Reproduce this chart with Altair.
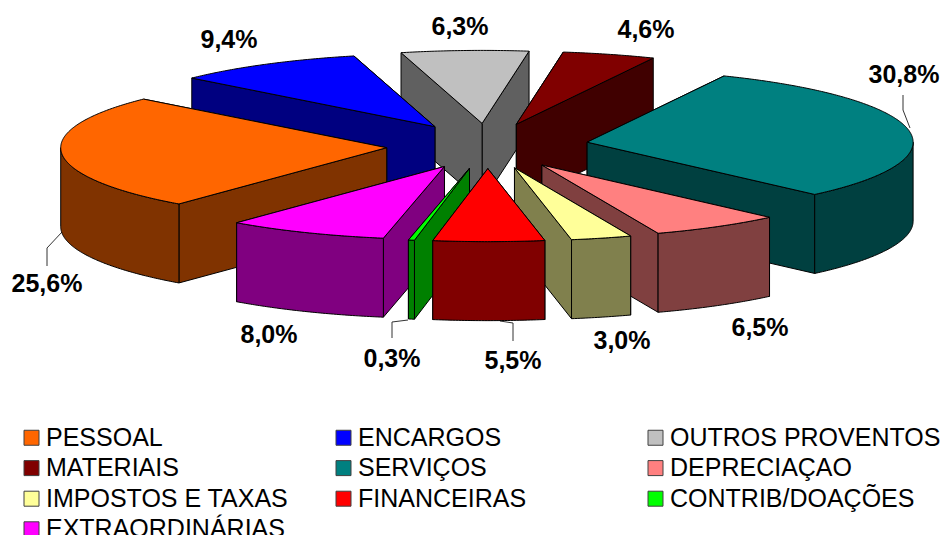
import math
import altair as alt

names = ["PESSOAL", "ENCARGOS", "OUTROS PROVENTOS", "MATERIAIS", "SERVIÇOS",
         "DEPRECIAÇAO", "IMPOSTOS E TAXAS", "FINANCEIRAS", "CONTRIB/DOAÇÕES", "EXTRAORDINÁRIAS"]
values = [25.6, 9.4, 6.3, 4.6, 30.8, 6.5, 3.0, 5.5, 0.3, 8.0]
top_colors = ["#FF6600", "#0000FF", "#C0C0C0", "#800000", "#008080",
              "#FF8080", "#FFFF99", "#FF0000", "#00FF00", "#FF00FF"]
wall_colors = ["#803300", "#000080", "#606060", "#400000", "#004040",
               "#804040", "#80804D", "#800000", "#008000", "#800080"]
label_texts = ["25,6%", "9,4%", "6,3%", "4,6%", "30,8%", "6,5%", "3,0%", "5,5%", "0,3%", "8,0%"]
label_x = [47, 229, 460, 646, 904, 760, 622, 513, 392, 269]
label_y = [284, 40, 27, 30, 75, 328, 341, 361, 359, 335]
leaders = [
    [[47, 266], [47, 248], [62, 232]],
    [[903, 95], [903, 110], [910, 128]],
    [[392, 338], [392, 322], [408, 320]],
    [[513, 341], [513, 323], [500, 321]],
]

# 3-D pie geometry
CX, CY, RX, RY, DEPTH, EXPLODE, START = 487.5, 146, 326, 73, 79, 0.31, 219.6


def pt(deg, cx, cy, f=1.0):
    a = math.radians(deg)
    return [cx + f * RX * math.sin(a), cy - f * RY * math.cos(a)]


def poly(ring, key):
    return {"type": "Feature", "properties": {"key": key},
            "geometry": {"type": "Polygon", "coordinates": [ring + [ring[0]]]}}


total = sum(values)
slices, acc = [], START
for i, v in enumerate(values):
    span = v / total * 360
    slices.append((acc, acc + span, i))
    acc += span

features = []
for a0, a1, i in sorted(slices, key=lambda s: -math.cos(math.radians((s[0] + s[1]) / 2))):
    mid = (a0 + a1) / 2
    ax, ay = pt(mid, CX, CY, EXPLODE)
    wall = names[i] + "|wall"
    steps = max(2, int((a1 - a0) * 2))
    arc = [a0 + (a1 - a0) * k / steps for k in range(steps + 1)]
    top_arc = [pt(a, ax, ay) for a in arc]
    # radial walls: far one first
    ends = sorted([a0, a1], key=lambda a: -math.cos(math.radians(a)))
    for e in ends:
        p = pt(e, ax, ay)
        features.append(poly([[ax, ay], p, [p[0], p[1] + DEPTH], [ax, ay + DEPTH]], wall))
    # outer rim, only the part that faces the viewer
    front = []
    for base in (-360, 0, 360):
        lo, hi = max(a0, 90 + base), min(a1, 270 + base)
        if lo < hi:
            front.append((lo, hi))
    for lo, hi in front:
        n = max(2, int((hi - lo) * 2))
        rim = [pt(lo + (hi - lo) * k / n, ax, ay) for k in range(n + 1)]
        features.append(poly(rim + [[x, y + DEPTH] for x, y in reversed(rim)], wall))
    features.append(poly([[ax, ay]] + top_arc, names[i]))

line_features = [{"type": "Feature", "properties": {},
                  "geometry": {"type": "LineString", "coordinates": c}} for c in leaders]

proj = dict(type="identity", scale=1, translate=[-8, -8])

pie = alt.Chart(alt.InlineData(values=features)).mark_geoshape(
    stroke="#000000", strokeWidth=1, strokeJoin="round"
).encode(
    fill=alt.Fill(
        "properties.key:N",
        scale=alt.Scale(domain=names + [n + "|wall" for n in names],
                        range=top_colors + wall_colors),
        legend=alt.Legend(
            values=names, title=None, orient="none", legendX=11, legendY=417,
            direction="horizontal", columns=3, gridAlign="all",
            symbolType="square", symbolSize=225, symbolStrokeColor="#404040",
            symbolStrokeWidth=1, labelFont="Liberation Sans", labelFontSize=25,
            labelColor="#000000", labelLimit=400, labelOffset=2,
            columnPadding=14, rowPadding=4.6, padding=0,
        ),
    )
).project(**proj)

lines = alt.Chart(alt.InlineData(values=line_features)).mark_geoshape(
    filled=False, stroke="#333333", strokeWidth=1
).project(**proj)

labels = alt.Chart(alt.Data(values=[
    {"t": t, "x": x, "y": y} for t, x, y in zip(label_texts, label_x, label_y)
])).mark_text(
    font="Liberation Sans", fontWeight="bold", fontSize=25, color="#000000",
    align="center", baseline="middle"
).encode(longitude="x:Q", latitude="y:Q", text="t:N").project(**proj)

chart = alt.layer(lines, pie, labels).properties(
    width=935, height=527, padding=0, autosize=alt.AutoSizeParams(type="none")
).configure_view(stroke=None)

chart.save("out.html", embed_options={"renderer": "svg", "actions": False})
